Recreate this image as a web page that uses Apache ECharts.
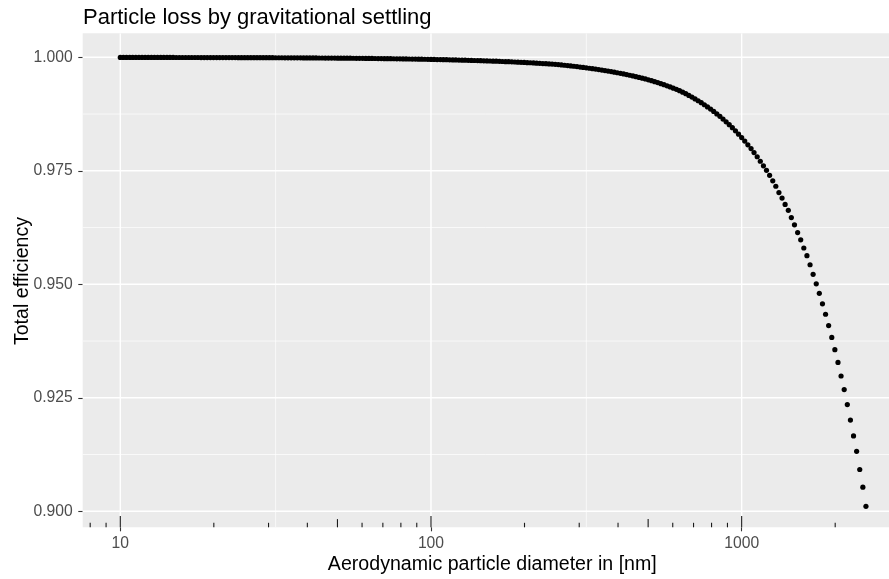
<!DOCTYPE html>
<html>
<head>
  <meta charset="utf-8">
  <title>Particle loss by gravitational settling</title>
  <script src="https://cdn.jsdelivr.net/npm/echarts@6/dist/echarts.min.js"></script>
  <style>
    html, body { margin: 0; padding: 0; background: #fff; }
  </style>
</head>
<body>
  <div id="chart" style="width: 889px; height: 579px;"></div>

  <script>
    // aerodynamic diameter in nm (100 points per decade)
    const diameter = [
      10.00, 10.23, 10.47, 10.72, 10.96, 11.22, 11.48, 11.75, 12.02, 12.30,
      12.59, 12.88, 13.18, 13.49, 13.80, 14.13, 14.45, 14.79, 15.14, 15.49,
      15.85, 16.22, 16.60, 16.98, 17.38, 17.78, 18.20, 18.62, 19.05, 19.50,
      19.95, 20.42, 20.89, 21.38, 21.88, 22.39, 22.91, 23.44, 23.99, 24.55,
      25.12, 25.70, 26.30, 26.92, 27.54, 28.18, 28.84, 29.51, 30.20, 30.90,
      31.62, 32.36, 33.11, 33.88, 34.67, 35.48, 36.31, 37.15, 38.02, 38.90,
      39.81, 40.74, 41.69, 42.66, 43.65, 44.67, 45.71, 46.77, 47.86, 48.98,
      50.12, 51.29, 52.48, 53.70, 54.95, 56.23, 57.54, 58.88, 60.26, 61.66,
      63.10, 64.57, 66.07, 67.61, 69.18, 70.79, 72.44, 74.13, 75.86, 77.62,
      79.43, 81.28, 83.18, 85.11, 87.10, 89.13, 91.20, 93.33, 95.50, 97.72,
      100.0, 102.3, 104.7, 107.2, 109.6, 112.2, 114.8, 117.5, 120.2, 123.0,
      125.9, 128.8, 131.8, 134.9, 138.0, 141.3, 144.5, 147.9, 151.4, 154.9,
      158.5, 162.2, 166.0, 169.8, 173.8, 177.8, 182.0, 186.2, 190.5, 195.0,
      199.5, 204.2, 208.9, 213.8, 218.8, 223.9, 229.1, 234.4, 239.9, 245.5,
      251.2, 257.0, 263.0, 269.2, 275.4, 281.8, 288.4, 295.1, 302.0, 309.0,
      316.2, 323.6, 331.1, 338.8, 346.7, 354.8, 363.1, 371.5, 380.2, 389.0,
      398.1, 407.4, 416.9, 426.6, 436.5, 446.7, 457.1, 467.7, 478.6, 489.8,
      501.2, 512.9, 524.8, 537.0, 549.5, 562.3, 575.4, 588.8, 602.6, 616.6,
      631.0, 645.7, 660.7, 676.1, 691.8, 707.9, 724.4, 741.3, 758.6, 776.2,
      794.3, 812.8, 831.8, 851.1, 871.0, 891.3, 912.0, 933.3, 955.0, 977.2,
      1000, 1023, 1047, 1072, 1096, 1122, 1148, 1175, 1202, 1230,
      1259, 1288, 1318, 1349, 1380, 1413, 1445, 1479, 1514, 1549,
      1585, 1622, 1660, 1698, 1738, 1778, 1820, 1862, 1905, 1950,
      1995, 2042, 2089, 2138, 2188, 2239, 2291, 2344, 2399, 2455,
      2512
    ];

    // total efficiency
    const efficiency = [
      0.99998, 0.99998, 0.99998, 0.99998, 0.99998, 0.99998, 0.99998, 0.99998, 0.99997, 0.99997,
      0.99997, 0.99997, 0.99997, 0.99997, 0.99997, 0.99997, 0.99997, 0.99997, 0.99996, 0.99996,
      0.99996, 0.99996, 0.99996, 0.99996, 0.99996, 0.99996, 0.99995, 0.99995, 0.99995, 0.99995,
      0.99995, 0.99995, 0.99995, 0.99994, 0.99994, 0.99994, 0.99994, 0.99994, 0.99993, 0.99993,
      0.99993, 0.99993, 0.99993, 0.99992, 0.99992, 0.99992, 0.99992, 0.99991, 0.99991, 0.99991,
      0.99990, 0.99990, 0.99990, 0.99989, 0.99989, 0.99989, 0.99988, 0.99988, 0.99988, 0.99987,
      0.99987, 0.99986, 0.99986, 0.99986, 0.99985, 0.99985, 0.99984, 0.99984, 0.99983, 0.99983,
      0.99982, 0.99981, 0.99981, 0.99980, 0.99980, 0.99979, 0.99978, 0.99978, 0.99977, 0.99976,
      0.99975, 0.99975, 0.99974, 0.99973, 0.99972, 0.99971, 0.99970, 0.99969, 0.99968, 0.99967,
      0.99966, 0.99965, 0.99964, 0.99963, 0.99962, 0.99961, 0.99959, 0.99958, 0.99957, 0.99955,
      0.99954, 0.99953, 0.99951, 0.99950, 0.99948, 0.99947, 0.99945, 0.99943, 0.99942, 0.99940,
      0.99938, 0.99936, 0.99934, 0.99932, 0.99930, 0.99928, 0.99926, 0.99923, 0.99921, 0.99919,
      0.99916, 0.99914, 0.99911, 0.99908, 0.99905, 0.99903, 0.99900, 0.99897, 0.99894, 0.99890,
      0.99887, 0.99883, 0.99880, 0.99876, 0.99872, 0.99868, 0.99863, 0.99859, 0.99855, 0.99850,
      0.99845, 0.99839, 0.99832, 0.99825, 0.99818, 0.99810, 0.99803, 0.99795, 0.99786, 0.99777,
      0.99768, 0.99759, 0.99750, 0.99740, 0.99730, 0.99719, 0.99708, 0.99697, 0.99685, 0.99673,
      0.99660, 0.99647, 0.99635, 0.99619, 0.99605, 0.99590, 0.99574, 0.99558, 0.99541, 0.99523,
      0.99505, 0.99485, 0.99464, 0.99443, 0.99420, 0.99397, 0.99373, 0.99347, 0.99321, 0.99294,
      0.99265, 0.99232, 0.99198, 0.99161, 0.99124, 0.99084, 0.99043, 0.99000, 0.98955, 0.98908,
      0.98859, 0.98808, 0.98754, 0.98699, 0.98640, 0.98579, 0.98516, 0.98449, 0.98380, 0.98307,
      0.98231, 0.98154, 0.98073, 0.97989, 0.97902, 0.9781, 0.9771, 0.9761, 0.9751, 0.9740,
      0.9728, 0.9716, 0.9702, 0.9690, 0.9676, 0.9663, 0.9647, 0.9631, 0.9614, 0.9598,
      0.9580, 0.9563, 0.9543, 0.9522, 0.9501, 0.9480, 0.9457, 0.9434, 0.9409, 0.9383,
      0.9356, 0.9328, 0.9298, 0.9268, 0.9235, 0.9201, 0.9166, 0.9132, 0.9092, 0.9053,
      0.9011
    ];

    // axis breaks
    const xBreaks = [10, 100, 1000];
    const xMinorBreaks = [31.62, 316.2];
    const yBreaks = [0.900, 0.925, 0.950, 0.975, 1.000];
    const yMinorBreaks = [0.9125, 0.9375, 0.9625, 0.9875];

    // log ticks drawn at the bottom of the panel
    const logTicksShort = [8, 9, 20, 30, 40, 60, 70, 80, 90, 200, 300, 400, 600, 700, 800, 900, 2000];
    const logTicksMid = [50, 500];
    const logTicksLong = [10, 100, 1000];

    const X_MIN = 7.568, X_MAX = 2980;
    const Y_MIN = 0.89647, Y_MAX = 1.00529;
    const FONT = 'Liberation Sans, Arial, sans-serif';

    const points = diameter.map((d, i) => [d, efficiency[i]]);

    // grid lines as [x, y, isVertical, width]
    const gridLines = []
      .concat(xBreaks.map(v => [v, Y_MIN, 1, 1.4]))
      .concat(xMinorBreaks.map(v => [v, Y_MIN, 1, 0.7]))
      .concat(yBreaks.map(v => [X_MIN, v, 0, 1.4]))
      .concat(yMinorBreaks.map(v => [X_MIN, v, 0, 0.7]));

    const tickLines = []
      .concat(logTicksShort.map(v => [v, Y_MIN, 4.5]))
      .concat(logTicksMid.map(v => [v, Y_MIN, 8.2]))
      .concat(logTicksLong.map(v => [v, Y_MIN, 11.3]));

    const chart = echarts.init(document.getElementById('chart'));

    chart.setOption({
      animation: false,
      backgroundColor: '#ffffff',
      grid: {
        left: 82.7, right: 0, top: 33.3, bottom: 51.7,
        show: true, backgroundColor: '#EBEBEB', borderWidth: 0
      },
      xAxis: {
        type: 'log',
        logBase: 10,
        min: X_MIN,
        max: X_MAX,
        axisLine: { show: false },
        splitLine: { show: false },
        axisTick: {
          show: true, length: 4, customValues: xBreaks,
          lineStyle: { color: '#333333', width: 1.1 }
        },
        axisLabel: {
          customValues: xBreaks,
          margin: 8,
          fontSize: 15.7,
          fontFamily: FONT,
          color: '#4D4D4D',
          formatter: v => String(v)
        }
      },
      yAxis: {
        type: 'value',
        min: Y_MIN,
        max: Y_MAX,
        axisLine: { show: false },
        splitLine: { show: false },
        axisTick: {
          show: true, length: 4.4, customValues: yBreaks,
          lineStyle: { color: '#333333', width: 1.1 }
        },
        axisLabel: {
          customValues: yBreaks,
          margin: 10,
          fontSize: 15.7,
          fontFamily: FONT,
          color: '#4D4D4D',
          formatter: v => v.toFixed(3)
        }
      },
      graphic: [
        {
          type: 'text', x: 83, y: 17.5, z: 10,
          style: {
            text: 'Particle loss by gravitational settling',
            fontSize: 22, fontFamily: FONT, fill: '#000000',
            align: 'left', verticalAlign: 'middle',
            textAlign: 'left', textVerticalAlign: 'middle'
          }
        },
        {
          type: 'text', x: 492.3, y: 565, z: 10,
          style: {
            text: 'Aerodynamic particle diameter in [nm]',
            fontSize: 19.6, fontFamily: FONT, fill: '#000000',
            align: 'center', verticalAlign: 'middle',
            textAlign: 'center', textVerticalAlign: 'middle'
          }
        },
        {
          type: 'text', x: 23, y: 281, z: 10, rotation: Math.PI / 2,
          style: {
            text: 'Total efficiency',
            fontSize: 19.6, fontFamily: FONT, fill: '#000000',
            align: 'center', verticalAlign: 'middle',
            textAlign: 'center', textVerticalAlign: 'middle'
          }
        }
      ],
      series: [
        {
          type: 'custom',
          name: 'grid',
          z: 1,
          silent: true,
          clip: true,
          data: gridLines,
          renderItem: function (params, api) {
            const cs = params.coordSys;
            const p = api.coord([api.value(0), api.value(1)]);
            const w = api.value(3);
            const shape = api.value(2) === 1
              ? { x1: p[0], y1: cs.y, x2: p[0], y2: cs.y + cs.height }
              : { x1: cs.x, y1: p[1], x2: cs.x + cs.width, y2: p[1] };
            return { type: 'line', shape: shape, style: { stroke: '#FFFFFF', lineWidth: w } };
          }
        },
        {
          type: 'scatter',
          name: 'efficiency',
          z: 3,
          symbol: 'circle',
          symbolSize: 5.2,
          itemStyle: { color: '#000000', opacity: 1 },
          data: points
        },
        {
          type: 'custom',
          name: 'logticks',
          z: 4,
          silent: true,
          data: tickLines,
          renderItem: function (params, api) {
            const p = api.coord([api.value(0), api.value(1)]);
            const len = api.value(2);
            return {
              type: 'line',
              shape: { x1: p[0], y1: p[1], x2: p[0], y2: p[1] - len },
              style: { stroke: '#1A1A1A', lineWidth: 1.1 }
            };
          }
        }
      ]
    });
  </script>
</body>
</html>
